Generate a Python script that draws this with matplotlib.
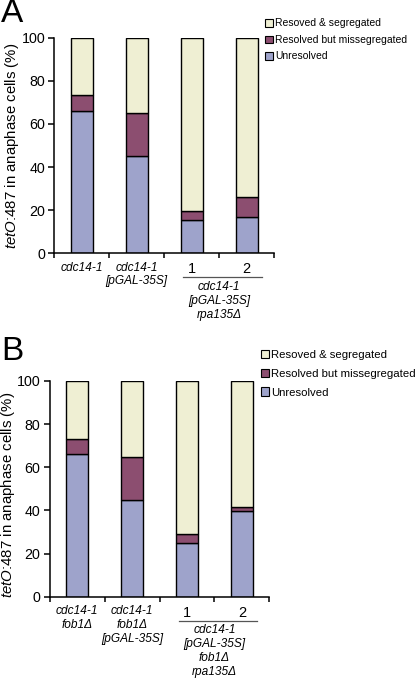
import matplotlib
matplotlib.use("Agg")
import matplotlib.pyplot as plt
from matplotlib.patches import Patch
from matplotlib.lines import Line2D
import matplotlib.transforms as mtrans
import numpy as np

plt.rcParams['font.family'] = ['Liberation Sans', 'DejaVu Sans']
plt.rcParams['mathtext.fontset'] = 'custom'
plt.rcParams['mathtext.it'] = 'Liberation Sans:italic'
plt.rcParams['mathtext.rm'] = 'Liberation Sans'

# ---- data ----
series_names = ["Resoved & segregated", "Resolved but missegregated", "Unresolved"]
colors = {"Unresolved": "#9EA3CB", "Resolved but missegregated": "#8C4E70",
          "Resoved & segregated": "#EFEFD3"}

a_unresolved = [66, 45, 15.3, 16.7]
a_misseg = [7.3, 20.1, 4.2, 9.4]
b_unresolved = [66, 45, 25, 39.7]
b_misseg = [7.3, 19.9, 4.1, 1.9]

a_single_labels = ["cdc14-1", "cdc14-1\n[pGAL-35S]"]
a_group_label = "cdc14-1\n[pGAL-35S]\nrpa135Δ"
b_single_labels = ["cdc14-1\nfob1Δ", "cdc14-1\nfob1Δ\n[pGAL-35S]"]
b_group_label = "cdc14-1\n[pGAL-35S]\nfob1Δ\nrpa135Δ"
group_numbers = ["1", "2"]
yticks = [0, 20, 40, 60, 80, 100]
ylabel = r"$\mathit{tetO}$:$\mathit{487}$ in anaphase cells (%)"

W, H = 416, 678
fig = plt.figure(figsize=(W / 100, H / 100), dpi=100)


def px_axes(l, r, t, b):
    return fig.add_axes([l / W, 1 - b / H, (r - l) / W, (b - t) / H])


def draw_panel(ax, unres, miss, singles, group, letter, letter_y, leg_pos, leg_fs, leg_ls,
               ylab_coords, tick_fs=8.6):
    x = np.arange(len(unres))
    unres = np.array(unres)
    miss = np.array(miss)
    rest = 100 - unres - miss
    kw = dict(width=0.4, edgecolor='black', linewidth=1.0)
    ax.bar(x, unres, color=colors["Unresolved"], **kw)
    ax.bar(x, miss, bottom=unres, color=colors["Resolved but missegregated"], **kw)
    ax.bar(x, rest, bottom=unres + miss, color=colors["Resoved & segregated"], **kw)
    ax.set_xlim(-0.5, len(unres) - 0.5)
    ax.set_ylim(0, 100)
    for s in ['top', 'right']:
        ax.spines[s].set_visible(False)
    for s in ['left', 'bottom']:
        ax.spines[s].set_linewidth(1.1)
    ax.set_yticks(yticks)
    ax.tick_params(axis='y', direction='out', length=4, width=1.1, labelsize=10.3, pad=2.6)
    ax.set_xticks(np.arange(-0.5, len(unres)))
    ax.set_xticklabels([])
    ax.tick_params(axis='x', direction='out', length=3.6, width=1.1)
    ax.set_ylabel(ylabel, fontsize=10.8)
    ax.yaxis.set_label_coords(*ylab_coords)

    # single labels
    for i, lab in enumerate(singles):
        ax.annotate(lab, xy=(x[i], 0), xycoords=('data', 'axes fraction'),
                    xytext=(0, -6), textcoords='offset points', ha='center', va='top',
                    fontsize=tick_fs, style='italic', linespacing=1.2)
    # group numbers
    for j, num in enumerate(group_numbers):
        ax.annotate(num, xy=(x[2 + j], 0), xycoords=('data', 'axes fraction'),
                    xytext=(0, -6.5), textcoords='offset points', ha='center', va='top',
                    fontsize=10.5)
    # underline below the group numbers
    tr = mtrans.blended_transform_factory(ax.transData, ax.transAxes) + \
        mtrans.ScaledTranslation(0, -24 / 100, fig.dpi_scale_trans)
    ax.add_line(Line2D([1.85, 3.28], [0, 0], transform=tr, color='#555555', lw=0.9,
                       clip_on=False))
    ax.annotate(group, xy=(2.5, 0), xycoords=('data', 'axes fraction'),
                xytext=(0, -20), textcoords='offset points', ha='center', va='top',
                fontsize=tick_fs, style='italic', linespacing=1.2)
    fig.text(1 / W, 1 - letter_y / H, letter, fontsize=24, ha='left', va='center')
    handles = [Patch(facecolor=colors[n], edgecolor='black', linewidth=0.8) for n in series_names]
    fig.legend(handles, series_names, loc='upper left',
               bbox_to_anchor=(leg_pos[0] / W, 1 - leg_pos[1] / H), frameon=False,
               fontsize=leg_fs, handlelength=0.75, handleheight=0.75, handletextpad=0.2,
               labelspacing=leg_ls, borderpad=0, borderaxespad=0)


axA = px_axes(54.3, 274, 37.7, 253.3)
draw_panel(axA, a_unresolved, a_misseg, a_single_labels, a_group_label, "A", 14,
           (265, 18.5), 7.5, 0.62, (-0.152, 0.5))
axB = px_axes(49.7, 269.3, 381, 596.7)
draw_panel(axB, b_unresolved, b_misseg, b_single_labels, b_group_label, "B", 352,
           (260.5, 350), 8.2, 0.75, (-0.148, 0.471))

fig.savefig("out.png", dpi=100)
